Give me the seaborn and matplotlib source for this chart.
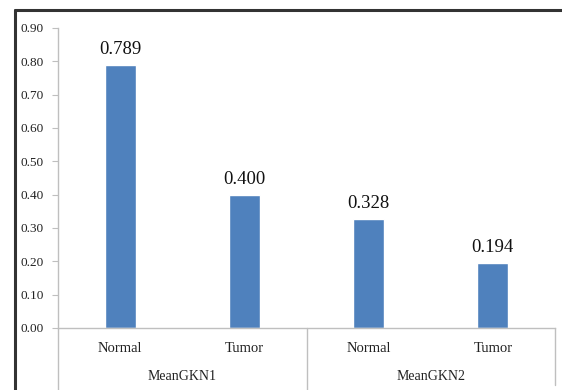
import seaborn as sns
import matplotlib.pyplot as plt
import matplotlib.transforms as mtransforms
from matplotlib.lines import Line2D
import pandas as pd

sns.set_style("white")
plt.rcParams['font.family'] = ['Liberation Serif', 'DejaVu Serif']

groups = ["MeanGKN1", "MeanGKN1", "MeanGKN2", "MeanGKN2"]
samples = ["Normal", "Tumor", "Normal", "Tumor"]
values = [0.789, 0.400, 0.328, 0.194]
y_ticks = [0.0, 0.1, 0.2, 0.3, 0.4, 0.5, 0.6, 0.7, 0.8, 0.9]

df = pd.DataFrame({"Group": groups, "Sample": samples, "Value": values})
df["Key"] = df["Group"] + "_" + df["Sample"]

fig = plt.figure(figsize=(5.62, 3.90), dpi=100)
ax = fig.add_axes([58 / 562, 1 - 328 / 390, (555 - 58) / 562, 300 / 390])

sns.barplot(data=df, x="Key", y="Value", order=list(df["Key"]), color="#4F81BD",
            width=0.25, saturation=1, ax=ax, errorbar=None)

ax.set_ylim(0, 0.9)
ax.set_xlim(-0.5, 3.5)
ax.set_yticks(y_ticks)
ax.set_yticklabels([f"{t:.2f}" for t in y_ticks], fontsize=9.5, color="#222222")
ax.set_xticks([])
ax.set_xlabel("")
ax.set_ylabel("")
ax.tick_params(axis="y", length=4, width=0.8, color="#BFBFBF", direction="out", pad=6, left=True)

for side in ["top", "right"]:
    ax.spines[side].set_visible(False)
for side in ["left", "bottom"]:
    ax.spines[side].set_color("#BFBFBF")
    ax.spines[side].set_linewidth(1)

ax.bar_label(ax.containers[0], fmt="%.3f", padding=5, fontsize=13.5, color="#111111")

# two-level category axis
trans = mtransforms.blended_transform_factory(ax.transData, ax.transAxes)
for i, s in enumerate(samples):
    ax.text(i, -0.067, s, transform=trans, ha="center", va="center", fontsize=10.5, color="#222222")
for i, g in enumerate(["MeanGKN1", "MeanGKN2"]):
    ax.text(2 * i + 0.5, -0.16, g, transform=trans, ha="center", va="center", fontsize=10, color="#222222")
for xv in [-0.5, 1.5, 3.5]:
    ax.plot([xv, xv], [0, -0.19 if xv == 3.5 else -0.25], transform=trans, color="#BFBFBF",
            lw=1, clip_on=False)

# outer frame of the screenshot
fig.add_artist(Line2D([15 / 562, 15 / 562], [0, 1 - 10 / 390], transform=fig.transFigure,
                      color="#333333", lw=2.2))
fig.add_artist(Line2D([15 / 562, 1], [1 - 10 / 390, 1 - 10 / 390], transform=fig.transFigure,
                      color="#333333", lw=2.2))

fig.savefig("out.png", dpi=100)
